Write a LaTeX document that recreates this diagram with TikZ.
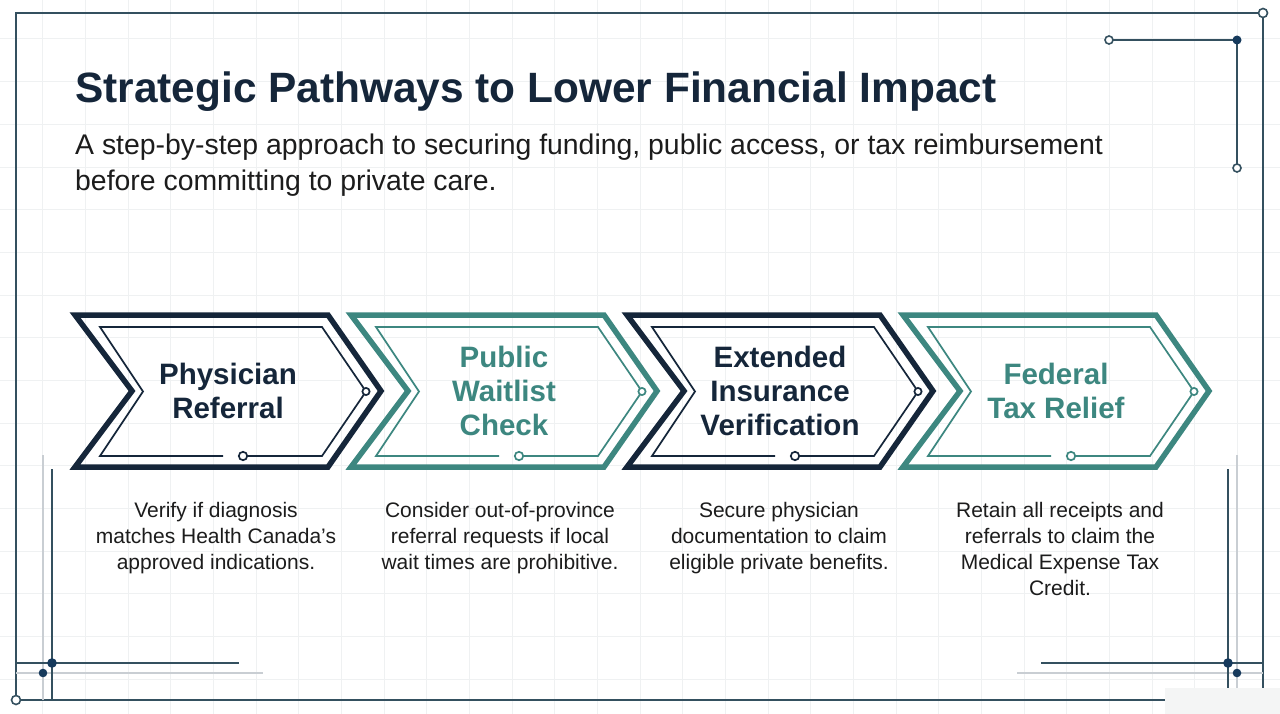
\documentclass[tikz,border=0pt]{standalone}
\usepackage{fontspec}
\setmainfont{Liberation Sans}
\definecolor{navyc}{HTML}{15263A}
\definecolor{tealc}{HTML}{3D8780}
\definecolor{framec}{HTML}{34505F}
\definecolor{dotc}{HTML}{163A5C}
\definecolor{lightc}{HTML}{C9CED3}
\definecolor{gridc}{HTML}{EFF1F2}
\definecolor{textc}{HTML}{1C1C1C}
\definecolor{markc}{HTML}{F4F5F5}
\newcommand{\mychev}[3]{%
  \begin{scope}[xshift=#1pt]
    \draw[outerline,#2] (0,315) -- (253,315) -- (306,391) -- (253,467) -- (0,467) -- (57,391) -- cycle;
    \draw[innerline,#2] (148,456) -- (25,456) -- (68,391.5) -- (25,327) -- (247,327) -- (291,391.5) -- (247,456) -- (168,456);
    \draw[innerline,#2,fill=white] (291,391.5) circle (3.6);
    \draw[innerline,#2,fill=white] (168,456) circle (4.2);
    \node[steplabel,text=#2] (lab#3) at (153,391) {\csname steptext#3\endcsname};
  \end{scope}}
\newcommand{\steptexta}{Physician\\Referral}
\newcommand{\steptextb}{Public\\Waitlist\\Check}
\newcommand{\steptextc}{Extended\\Insurance\\Verification}
\newcommand{\steptextd}{Federal\\Tax Relief}
\begin{document}
\begin{tikzpicture}[x=1pt,y=-1pt,
  outerline/.style={line width=5.5pt,line join=miter},
  innerline/.style={line width=1.7pt},
  steplabel/.style={font=\fontsize{29.5}{34}\selectfont\bfseries,align=center,inner sep=0pt},
  desc/.style={font=\fontsize{21}{26}\selectfont,align=center,inner sep=0pt,text=textc,anchor=north},
  frameline/.style={framec,line width=1.6pt},
  lightline/.style={lightc,line width=1.6pt},
  opendot/.style={framec,line width=1.6pt,fill=white},
  filldot/.style={fill=dotc,draw=none}]
\useasboundingbox (0,0) rectangle (1280,714);
\fill[white] (0,0) rectangle (1280,714);
% grid
\foreach \k in {1,...,29} {\draw[gridc,line width=1pt] (42.67*\k,0) -- (42.67*\k,714);}
\foreach \k in {0,...,15} {\draw[gridc,line width=1pt] (0,39+42.67*\k) -- (1280,39+42.67*\k);}
% outer frame
\draw[frameline] (16,13) -- (1263,13) -- (1263,700) -- (16,700) -- cycle;
\draw[opendot] (1263,13) circle (4.5);
\draw[opendot] (16,700) circle (4.5);
% top right ornament
\coordinate (trA) at (1109,40);
\coordinate (trB) at (1237,40);
\coordinate (trC) at (1237,168);
\draw[frameline] (trA) -- (trB) -- (trC);
\draw[opendot] (trA) circle (4);
\draw[opendot] (trC) circle (4);
\fill[filldot] (trB) circle (4.5);
% bottom left ornament
\draw[lightline] (43,455) -- (43,700);
\draw[lightline] (16,673) -- (263,673);
\draw[frameline] (52,469) -- (52,700);
\draw[frameline] (16,663) -- (239,663);
\fill[filldot] (52,663) circle (4.8);
\fill[filldot] (43,673) circle (4.3);
% bottom right ornament
\draw[lightline] (1237,455) -- (1237,700);
\draw[lightline] (1017,673) -- (1263,673);
\draw[frameline] (1228,469) -- (1228,700);
\draw[frameline] (1041,663) -- (1263,663);
\fill[filldot] (1228,663) circle (4.8);
\fill[filldot] (1237,673) circle (4.3);
\fill[markc] (1165,688) rectangle (1280,714);
% title
\node[anchor=base west,inner sep=0pt,text=navyc,font=\fontsize{42.4}{48}\selectfont\bfseries] (title) at (75,103) {Strategic Pathways to Lower Financial Impact};
\node[anchor=north west,inner sep=0pt,text=textc,align=left,font=\fontsize{28.4}{35.5}\selectfont] (subtitle) at (75,134) {A step-by-step approach to securing funding, public access, or tax reimbursement\\before committing to private care.};
% chevrons
\mychev{75}{navyc}{a}
\mychev{351}{tealc}{b}
\mychev{627}{navyc}{c}
\mychev{903}{tealc}{d}
% descriptions
\node[desc] (desca) at (216,502) {Verify if diagnosis\\matches Health Canada's\\approved indications.};
\node[desc] (descb) at (500,502) {Consider out-of-province\\referral requests if local\\wait times are prohibitive.};
\node[desc] (descc) at (779,502) {Secure physician\\documentation to claim\\eligible private benefits.};
\node[desc] (descd) at (1060,502) {Retain all receipts and\\referrals to claim the\\Medical Expense Tax\\Credit.};
\end{tikzpicture}
\end{document}
